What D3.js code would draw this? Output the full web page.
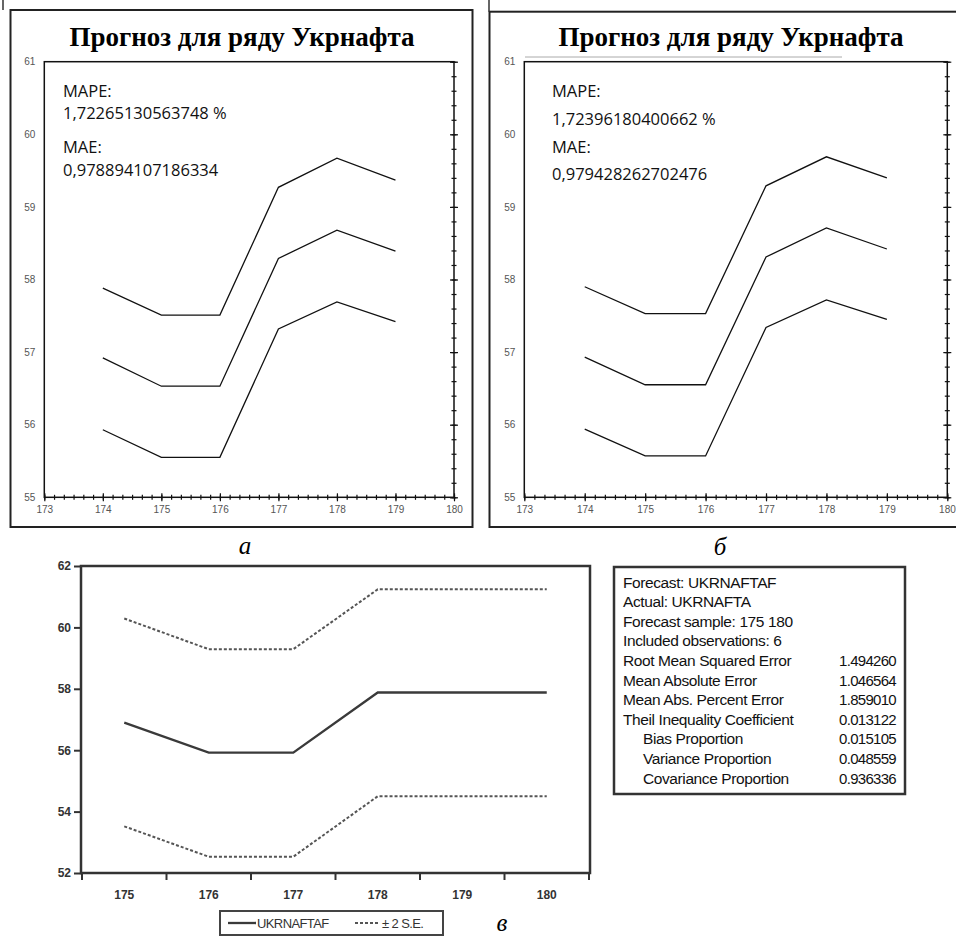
<!DOCTYPE html>
<html>
<head>
<meta charset="utf-8">
<script src="https://cdn.jsdelivr.net/npm/d3@7"></script>
<style>
  body { margin: 0; background: #fff; }
  svg { display: block; }
</style>
</head>
<body>
<svg width="956" height="936"></svg>
<script>
// top panels: forecast bands for periods 174..179
const years = [174, 175, 176, 177, 178, 179];
const aUpper = [57.88, 57.51, 57.51, 59.27, 59.67, 59.37];
const aMid   = [56.92, 56.53, 56.53, 58.29, 58.68, 58.39];
const aLower = [55.93, 55.55, 55.55, 57.32, 57.69, 57.42];
const bUpper = [57.90, 57.53, 57.53, 59.29, 59.69, 59.40];
const bMid   = [56.93, 56.55, 56.55, 58.31, 58.71, 58.42];
const bLower = [55.94, 55.57, 55.57, 57.34, 57.72, 57.45];
const aStats = ['MAPE:', '1,72265130563748 %', 'MAE:', '0,978894107186334'];
const bStats = ['MAPE:', '1,72396180400662 %', 'MAE:', '0,979428262702476'];
const topTitle = 'Прогноз для ряду Укрнафта';
const topXTicks = [173, 174, 175, 176, 177, 178, 179, 180];
const topYTicks = [55, 56, 57, 58, 59, 60, 61];

// bottom chart: EViews forecast with +-2 S.E.
const fcYears = [175, 176, 177, 178, 179, 180];
const forecast = [56.90, 55.92, 55.92, 57.88, 57.88, 57.88];
const upperSE  = [60.29, 59.29, 59.29, 61.24, 61.24, 61.24];
const lowerSE  = [53.52, 52.53, 52.53, 54.50, 54.50, 54.50];
const fcYTicks = [52, 54, 56, 58, 60, 62];

const statLabels = ['Forecast: UKRNAFTAF', 'Actual: UKRNAFTA', 'Forecast sample: 175 180',
  'Included observations: 6', 'Root Mean Squared Error', 'Mean Absolute Error',
  'Mean Abs. Percent Error', 'Theil Inequality Coefficient', 'Bias Proportion',
  'Variance Proportion', 'Covariance Proportion'];
const statValues = ['', '', '', '', '1.494260', '1.046564', '1.859010', '0.013122',
  '0.015105', '0.048559', '0.936336'];
const statIndent = [0, 0, 0, 0, 0, 0, 0, 0, 1, 1, 1];

const svg = d3.select('svg');

// ticks that cross the axis line
function crossTicks(g, axis, size, horizontal) {
  g.call(axis.tickSize(size).tickSizeOuter(0));
  g.select('.domain').remove();
  if (horizontal) g.selectAll('.tick line').attr('y1', -size);
  else g.selectAll('.tick line').attr('x1', -size);
  g.selectAll('.tick line').attr('stroke', '#111').attr('stroke-width', 1.2);
}

function drawPanel(p) {
  const x = d3.scaleLinear().domain([173, 180]).range([p.x0, p.x1]);
  const y = d3.scaleLinear().domain([55, 61]).range([497.3, 61.7]);
  const minorX = d3.range(0, 43).map(i => 173 + i / 6);
  const minorY = d3.range(0, 31).map(i => 55 + i / 5);

  // outer frame
  svg.append('rect')
    .attr('x', p.fx).attr('y', p.fy).attr('width', p.fw).attr('height', 527 - p.fy)
    .attr('fill', 'none').attr('stroke', '#222').attr('stroke-width', 2);
  svg.append('line')
    .attr('x1', p.stub).attr('x2', p.stub).attr('y1', 0).attr('y2', p.fy)
    .attr('stroke', '#333').attr('stroke-width', 1.5);

  svg.append('text')
    .attr('x', p.tx).attr('y', 46)
    .attr('text-anchor', 'middle')
    .style('font-family', '"Liberation Serif", "Times New Roman", serif')
    .style('font-weight', 'bold').style('font-size', '27px')
    .text(topTitle);

  const g = svg.append('g');
  const sides = [
    [d3.axisBottom, 497.3, true], [d3.axisTop, 61.7, true],
    [d3.axisLeft, p.x0, false], [d3.axisRight, p.x1, false]
  ];
  sides.forEach(([fn, pos, horiz]) => {
    const sc = horiz ? x : y;
    const minor = horiz ? minorX : minorY;
    const major = horiz ? topXTicks : topYTicks;
    const tr = horiz ? `translate(0,${pos})` : `translate(${pos},0)`;
    crossTicks(g.append('g').attr('transform', tr), fn(sc).tickValues(minor).tickFormat(''), 2.5, horiz);
    crossTicks(g.append('g').attr('transform', tr), fn(sc).tickValues(major).tickFormat(''), 4, horiz);
  });

  // tick labels
  const xl = g.append('g').attr('transform', 'translate(0,497.3)')
    .call(d3.axisBottom(x).tickValues(topXTicks).tickFormat(d3.format('d')).tickSize(0).tickPadding(9))
    .call(a => a.select('.domain').remove());
  if (p.x1 > 940) {
    xl.selectAll('.tick:last-of-type text').attr('text-anchor', 'end').attr('dx', 8);
  }
  g.append('g').attr('transform', `translate(${p.x0},0)`)
    .call(d3.axisLeft(y).tickValues(topYTicks).tickFormat(d3.format('d')).tickSize(0).tickPadding(9))
    .call(a => a.select('.domain').remove());
  g.selectAll('.tick text')
    .style('font-family', '"Liberation Sans", Arial, sans-serif')
    .style('font-size', '10px').attr('fill', '#555');

  g.append('rect')
    .attr('x', p.x0).attr('y', 61.7).attr('width', p.x1 - p.x0).attr('height', 497.3 - 61.7)
    .attr('fill', 'none').attr('stroke', '#111').attr('stroke-width', 1.5);

  const line = d3.line().x((d, i) => x(years[i])).y(d => y(d));
  [p.upper, p.mid, p.lower].forEach(s => {
    svg.append('path').datum(s)
      .attr('d', line)
      .attr('fill', 'none').attr('stroke', '#111').attr('stroke-width', 1.3);
  });

  svg.append('g').selectAll('text')
    .data(p.stats)
    .join('text')
    .attr('x', p.sx)
    .attr('y', (d, i) => p.sy[i])
    .style('font-family', '"Open Sans", "Noto Sans", sans-serif')
    .style('font-size', '16.5px').attr('fill', '#111')
    .text(d => d);
}

drawPanel({fx: 10.5, fy: 10, fw: 462, stub: 3, tx: 242, x0: 44.3, x1: 454,
  upper: aUpper, mid: aMid, lower: aLower, stats: aStats, sx: 63, sy: [97, 119, 153, 176]});
drawPanel({fx: 489.5, fy: 11.7, fw: 500, stub: 489, tx: 731, x0: 524.3, x1: 947.3,
  upper: bUpper, mid: bMid, lower: bLower, stats: bStats, sx: 552, sy: [97, 125, 153, 180]});

// faint line under the second title
svg.append('line').attr('x1', 525).attr('x2', 842).attr('y1', 57).attr('y2', 57)
  .attr('stroke', '#aaa').attr('stroke-width', 1);

// captions
const captions = [['а', 245, 554], ['б', 720, 555], ['в', 502, 931]];
svg.selectAll('.cap').data(captions).join('text')
  .attr('class', 'cap')
  .attr('x', d => d[1]).attr('y', d => d[2])
  .attr('text-anchor', 'middle')
  .style('font-family', '"Liberation Serif", "Times New Roman", serif')
  .style('font-style', 'italic').style('font-size', '25px')
  .text(d => d[0]);

// ---- bottom forecast chart ----
const fx = d3.scaleBand().domain(fcYears).range([82, 589]);
const fy = d3.scaleLinear().domain([52, 62]).range([873, 566]);
const fg = svg.append('g');

fg.append('g').attr('transform', 'translate(81,0)')
  .call(d3.axisLeft(fy).tickValues(fcYTicks).tickSize(7).tickPadding(3))
  .call(a => a.select('.domain').remove());
fg.append('g').attr('transform', 'translate(0,873)')
  .call(d3.axisBottom(fx).tickSize(0).tickPadding(17))
  .call(a => a.select('.domain').remove());
fg.selectAll('.tick text')
  .style('font-family', '"Liberation Sans", Arial, sans-serif')
  .style('font-size', '12px').style('font-weight', 'bold').attr('fill', '#333');
fg.selectAll('.tick line').attr('stroke', '#333').attr('stroke-width', 2);

// x ticks sit at the band edges
const edges = fcYears.map(d => fx(d)).concat([fx.range()[1]]);
fg.selectAll('.edge').data(edges).join('line')
  .attr('class', 'edge')
  .attr('x1', d => d).attr('x2', d => d).attr('y1', 873).attr('y2', 880)
  .attr('stroke', '#333').attr('stroke-width', 2);

fg.append('rect')
  .attr('x', 81).attr('y', 566).attr('width', 509).attr('height', 307)
  .attr('fill', 'none').attr('stroke', '#333').attr('stroke-width', 2.5);

const fLine = d3.line().x((d, i) => fx(fcYears[i]) + fx.bandwidth() / 2).y(d => fy(d));
fg.append('path').datum(forecast).attr('d', fLine)
  .attr('fill', 'none').attr('stroke', '#3a3a3a').attr('stroke-width', 2.3);
[upperSE, lowerSE].forEach(s => {
  fg.append('path').datum(s).attr('d', fLine)
    .attr('fill', 'none').attr('stroke', '#555').attr('stroke-width', 2)
    .attr('stroke-dasharray', '3,2');
});

// legend
const lg = svg.append('g');
lg.append('rect').attr('x', 220).attr('y', 911).attr('width', 223).attr('height', 24)
  .attr('fill', '#fff').attr('stroke', '#444').attr('stroke-width', 2);
lg.append('line').attr('x1', 228).attr('x2', 256).attr('y1', 923).attr('y2', 923)
  .attr('stroke', '#3a3a3a').attr('stroke-width', 2.3);
lg.append('line').attr('x1', 355).attr('x2', 380).attr('y1', 923).attr('y2', 923)
  .attr('stroke', '#555').attr('stroke-width', 2).attr('stroke-dasharray', '3,2');
lg.selectAll('text').data([['UKRNAFTAF', 257], ['± 2 S.E.', 382]]).join('text')
  .attr('x', d => d[1]).attr('y', 928)
  .style('font-family', '"Liberation Sans", Arial, sans-serif')
  .style('font-size', '13px').style('letter-spacing', '-0.6px').attr('fill', '#333')
  .text(d => d[0]);

// statistics box
const sg = svg.append('g');
sg.append('rect').attr('x', 614).attr('y', 567).attr('width', 291).attr('height', 227)
  .attr('fill', 'none').attr('stroke', '#333').attr('stroke-width', 2.5);
sg.selectAll('.lab').data(statLabels).join('text')
  .attr('class', 'lab')
  .attr('x', (d, i) => 623 + statIndent[i] * 20)
  .attr('y', (d, i) => 587.5 + i * 19.6)
  .style('font-family', '"Liberation Sans", Arial, sans-serif')
  .style('font-size', '15.5px').style('letter-spacing', '-0.4px').attr('fill', '#111')
  .text(d => d);
sg.selectAll('.val').data(statValues).join('text')
  .attr('class', 'val')
  .attr('x', 896).attr('text-anchor', 'end')
  .attr('y', (d, i) => 587.5 + i * 19.6)
  .style('font-family', '"Liberation Sans", Arial, sans-serif')
  .style('font-size', '15px').style('letter-spacing', '-0.7px').attr('fill', '#111')
  .text(d => d);
</script>
</body>
</html>
